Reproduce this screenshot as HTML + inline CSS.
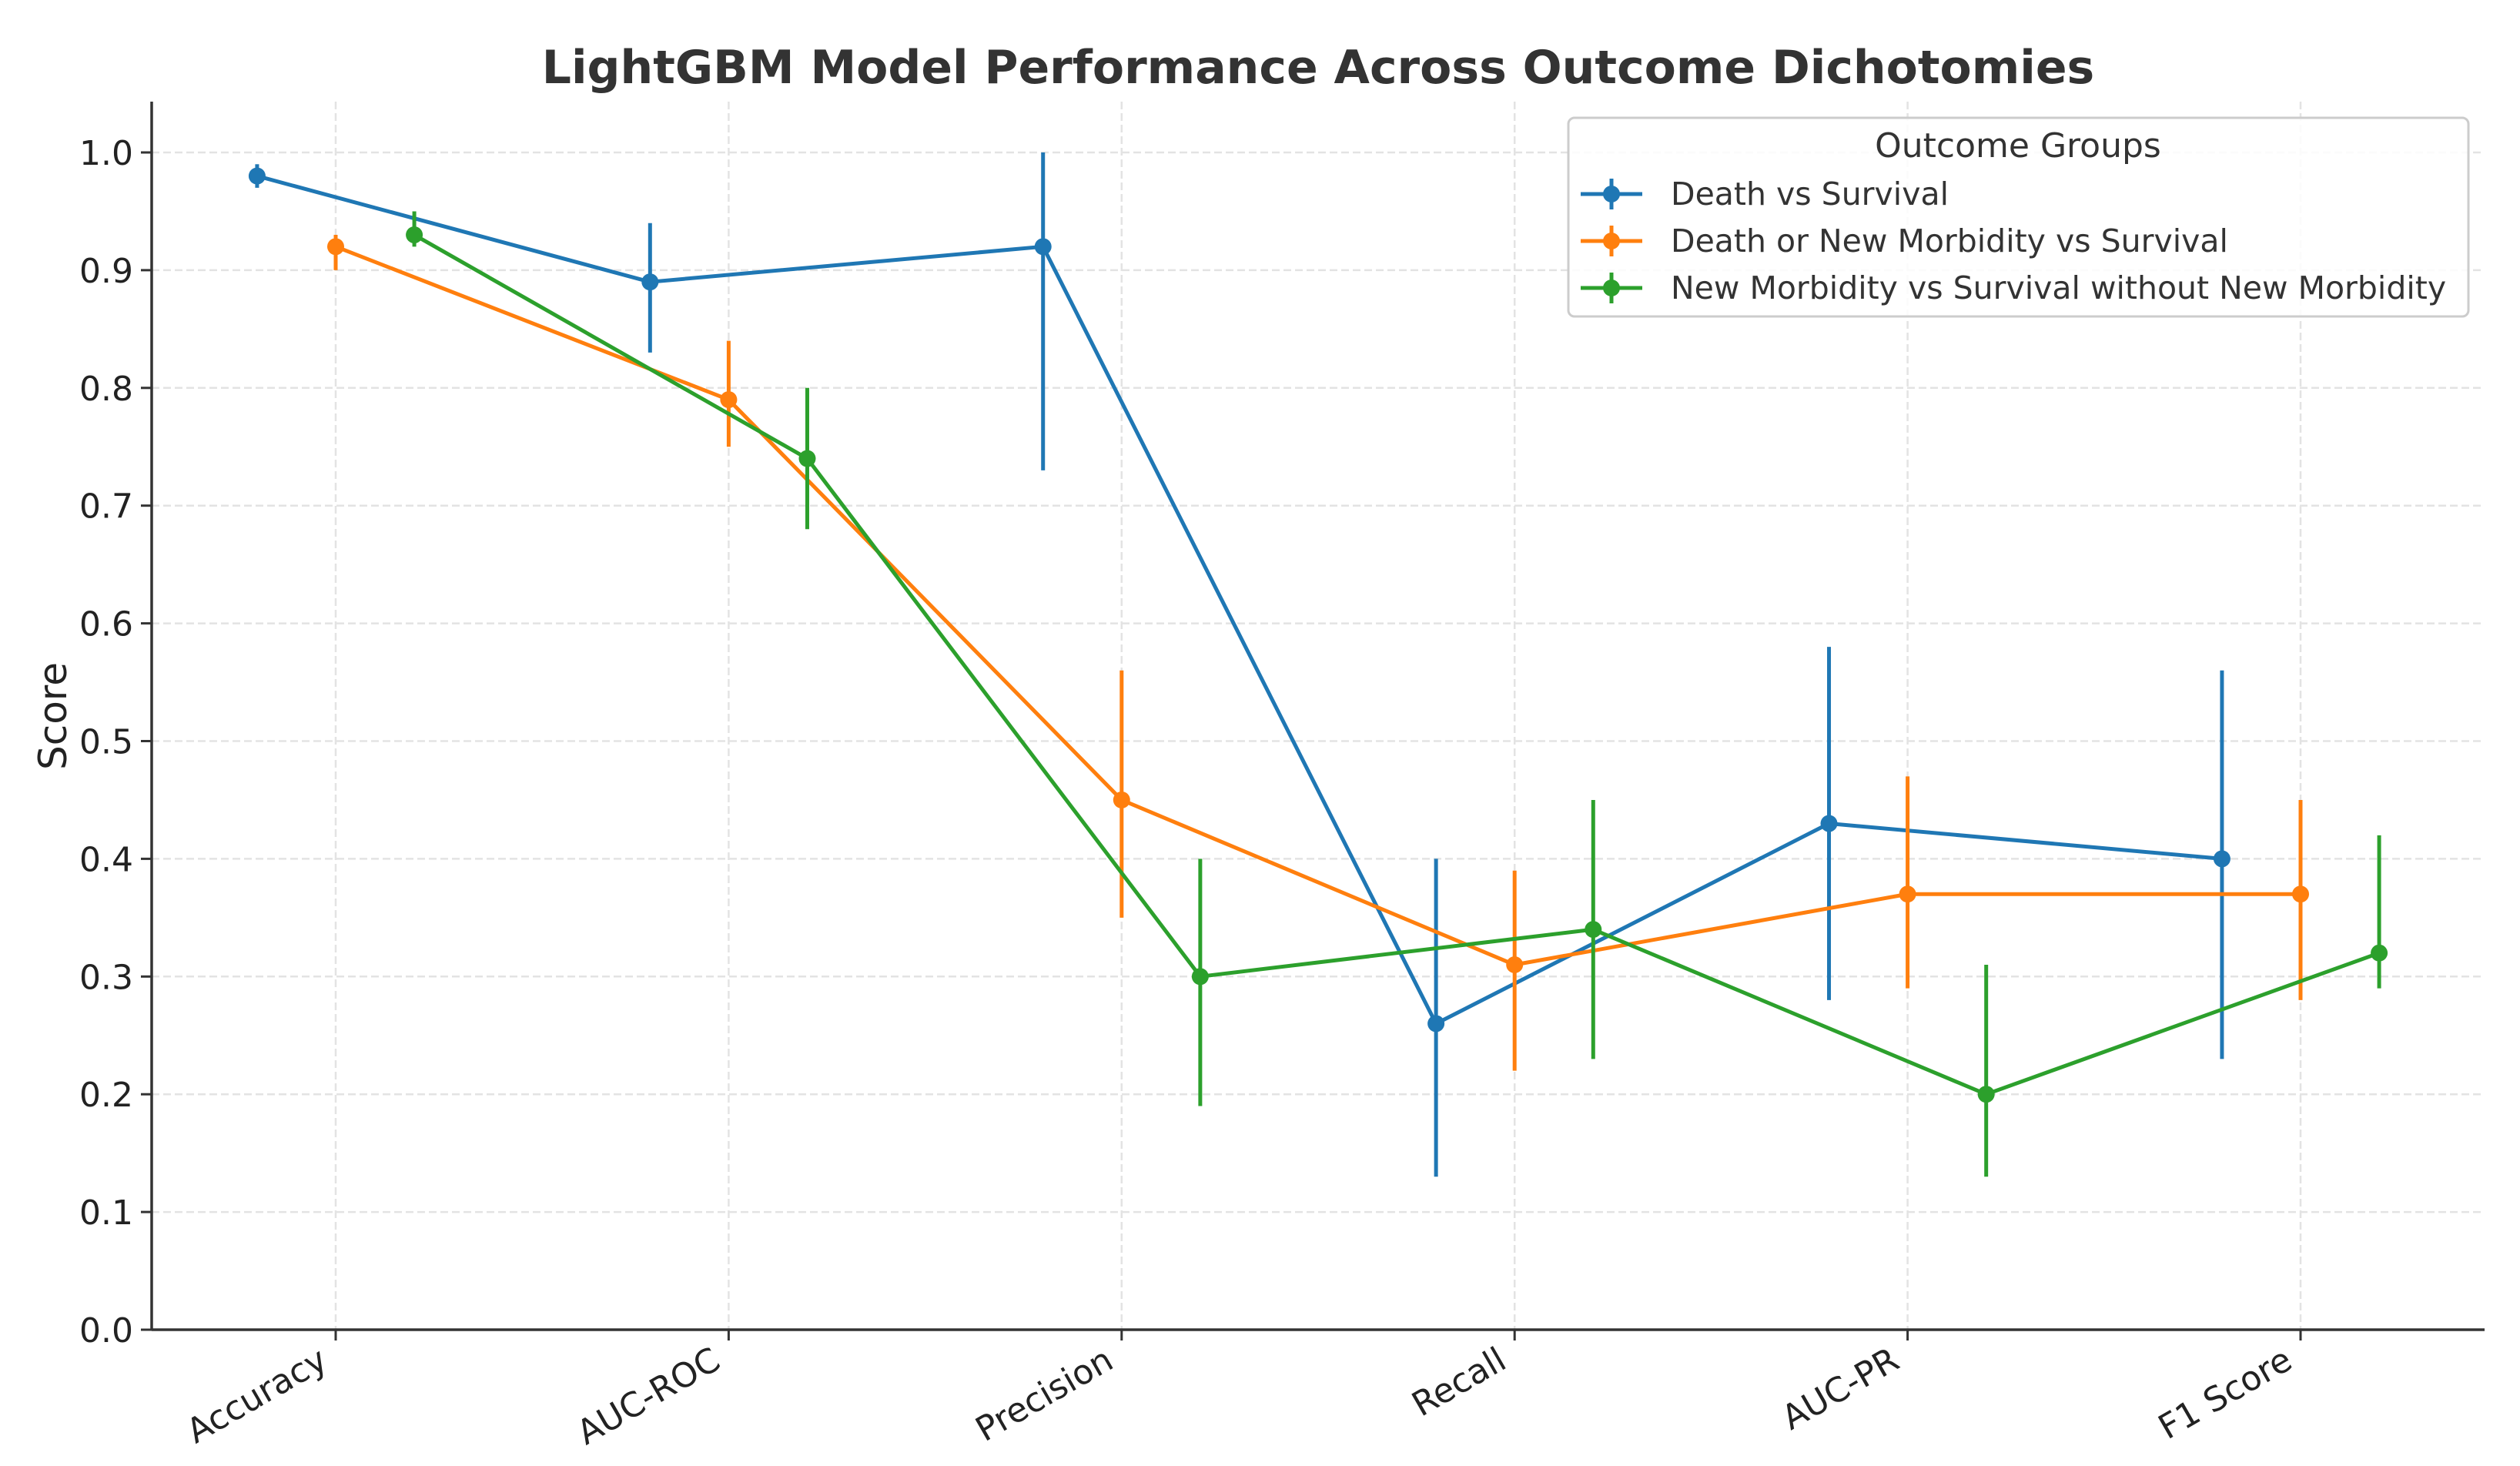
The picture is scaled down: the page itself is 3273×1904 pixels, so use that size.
<!DOCTYPE html>
<html><head><meta charset="utf-8"><style>
html,body{margin:0;padding:0;background:#fff;}
svg{display:block;font-family:"DejaVu Sans","Liberation Sans",sans-serif;}
</style></head><body>
<svg id="chart" width="3273" height="1904" viewBox="0 0 3273 1904" xmlns="http://www.w3.org/2000/svg">
<rect width="3273" height="1904" fill="#fff"/>
<g id="grid"></g>
<g id="axes"></g>
<g id="series"></g>
<text x="1712" y="108" text-anchor="middle" font-size="60" font-weight="bold" fill="#333">LightGBM Model Performance Across Outcome Dichotomies</text>
<text transform="translate(86,930) rotate(-90)" text-anchor="middle" font-size="50" fill="#222">Score</text>
<g id="legend">
<rect x="2037" y="153" width="1169" height="258" rx="8" fill="#fff" fill-opacity="0.85" stroke="#ccc" stroke-width="3"/>
<text x="2621" y="204" text-anchor="middle" font-size="44" fill="#333">Outcome Groups</text>
</g>
</svg>
<script>
const categories = ["Accuracy","AUC-ROC","Precision","Recall","AUC-PR","F1 Score"];
const seriesNames = ["Death vs Survival","Death or New Morbidity vs Survival","New Morbidity vs Survival without New Morbidity"];
const deathValues = [0.98,0.89,0.92,0.26,0.43,0.40];
const deathLow = [0.97,0.83,0.73,0.13,0.28,0.23];
const deathHigh = [0.99,0.94,1.00,0.40,0.58,0.56];
const dnmValues = [0.92,0.79,0.45,0.31,0.37,0.37];
const dnmLow = [0.90,0.75,0.35,0.22,0.29,0.28];
const dnmHigh = [0.93,0.84,0.56,0.39,0.47,0.45];
const nmValues = [0.93,0.74,0.30,0.34,0.20,0.32];
const nmLow = [0.92,0.68,0.19,0.23,0.13,0.29];
const nmHigh = [0.95,0.80,0.40,0.45,0.31,0.42];
const yTicks = [0,0.1,0.2,0.3,0.4,0.5,0.6,0.7,0.8,0.9,1.0];
const yTickLabels = ["0.0","0.1","0.2","0.3","0.4","0.5","0.6","0.7","0.8","0.9","1.0"];

const NS="http://www.w3.org/2000/svg";
const L=197,R=3227,T=132,B=1727;
const x0=436,step=510.4;
const xScale=i=>x0+i*step;
const yScale=v=>B-v*1529;
function mk(tag,attrs,parent){const e=document.createElementNS(NS,tag);for(const k in attrs)e.setAttribute(k,attrs[k]);parent.appendChild(e);return e;}
const grid=document.getElementById('grid'),axes=document.getElementById('axes'),ser=document.getElementById('series'),leg=document.getElementById('legend');

yTicks.forEach((v,i)=>{
  const y=yScale(v);
  const g=mk('line',{x1:L,x2:R,y1:y,y2:y,stroke:'#e3e3e3','stroke-width':2.5,'stroke-dasharray':'10,5'},grid);
  
  
  const t=mk('line',{x1:L-14,x2:L,y1:y,y2:y,stroke:'#333','stroke-width':3},axes);
  
  
  const tx=mk('text',{x:L-24,y:y+16,'text-anchor':'end','font-size':44,fill:'#222'},axes);
  tx.textContent=yTickLabels[i];
  
  
});
categories.forEach((c,i)=>{
  const x=xScale(i);
  const g=mk('line',{x1:x,x2:x,y1:T,y2:B,stroke:'#e3e3e3','stroke-width':2.5,'stroke-dasharray':'10,5'},grid);
  
  
  const t=mk('line',{x1:x,x2:x,y1:B,y2:B+14,stroke:'#333','stroke-width':3},axes);
  
  
  const tx=mk('text',{x:x-8,y:B+48,'text-anchor':'end','font-size':44,fill:'#222',transform:`rotate(-30 ${x-8} ${B+48})`},axes);
  tx.textContent=c;
  
  
});
const ax1=mk('line',{x1:L,x2:L,y1:T,y2:B+1.5,stroke:'#333','stroke-width':3.5},axes);


const ax2=mk('line',{x1:L,x2:R,y1:B,y2:B,stroke:'#333','stroke-width':3.5},axes);



const allSeries=[
 {vals:deathValues,lo:deathLow,hi:deathHigh,color:'#1f77b4',off:-0.2,name:'death-vs-survival'},
 {vals:dnmValues,lo:dnmLow,hi:dnmHigh,color:'#ff7f0e',off:0,name:'death-or-new-morbidity'},
 {vals:nmValues,lo:nmLow,hi:nmHigh,color:'#2ca02c',off:0.2,name:'new-morbidity'}
];
allSeries.forEach((s,si)=>{
  const g=mk('g',{},ser);
  
  
  const pts=s.vals.map((v,i)=>xScale(i+s.off)+','+yScale(v)).join(' ');
  const pl=mk('polyline',{points:pts,fill:'none',stroke:s.color,'stroke-width':5,'stroke-linejoin':'round'},g);
  
  
  s.vals.forEach((v,i)=>{
    const x=xScale(i+s.off);
    const e=mk('line',{x1:x,x2:x,y1:yScale(s.lo[i]),y2:yScale(s.hi[i]),stroke:s.color,'stroke-width':5},g);
    
    
    const c=mk('circle',{cx:x,cy:yScale(v),r:11,fill:s.color},g);
    
    
  });
  const ly=252+si*61;
  const ll=mk('line',{x1:2053,x2:2133,y1:ly,y2:ly,stroke:s.color,'stroke-width':5},leg);
  
  
  const lv=mk('line',{x1:2093,x2:2093,y1:ly-20,y2:ly+20,stroke:s.color,'stroke-width':5},leg);
  
  
  const lc=mk('circle',{cx:2093,cy:ly,r:11,fill:s.color},leg);
  
  
  const lt=mk('text',{x:2170,y:ly+14,'font-size':41,fill:'#333'},leg);
  lt.textContent=seriesNames[si];
  
  
});
</script>
</body></html>
